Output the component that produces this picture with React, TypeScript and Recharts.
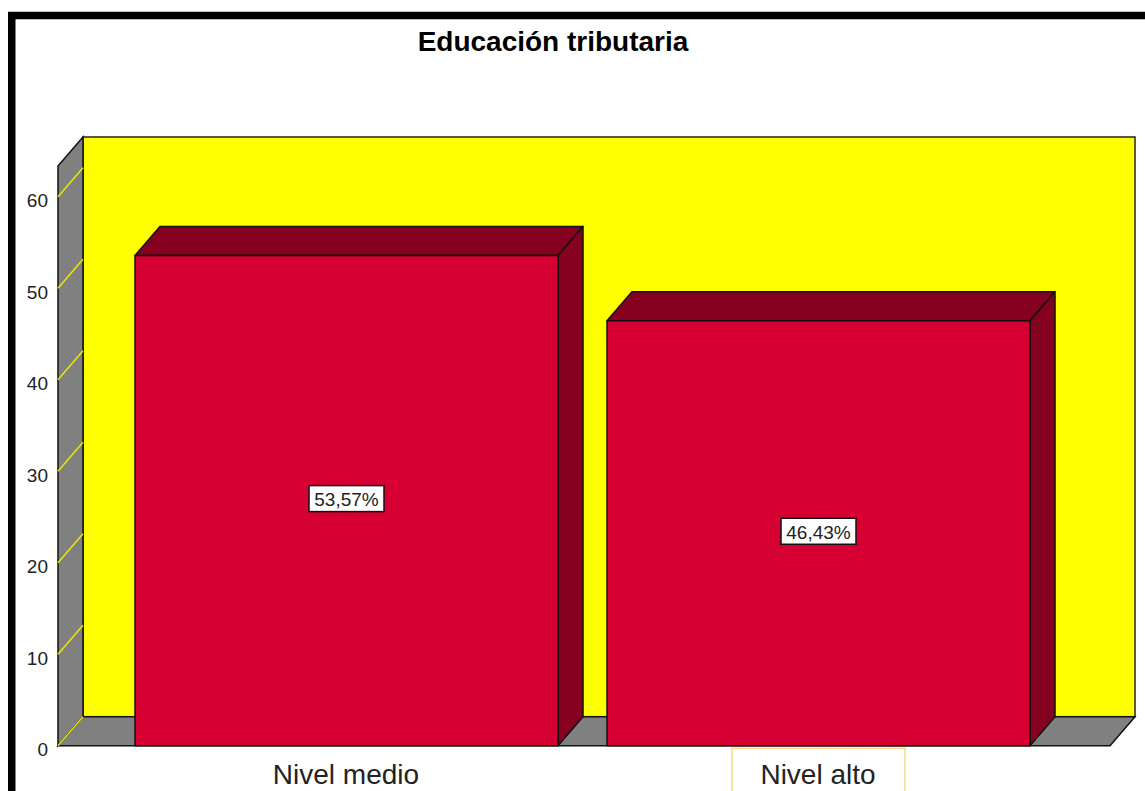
import { BarChart, Bar, XAxis, YAxis, LabelList, usePlotArea } from "recharts";

const categories = ["Nivel medio", "Nivel alto"];
const percentages = [53.57, 46.43];
const yTicks = [0, 10, 20, 30, 40, 50, 60];
const yMax = 63.35;

const data = categories.map((name, i) => ({ name, value: percentages[i] }));

// 3D depth offset of the box
const DX = 25;
const DY = 29;

const RED = "#d60032";
const DARK_RED = "#86001f";
const YELLOW = "#ffff00";
const GRAY = "#808080";
const FONT = "'Liberation Sans', Arial, sans-serif";

function Backdrop() {
  const plot = usePlotArea();
  if (!plot) return null;
  const { x, y, width, height } = plot;
  const b = y + height;
  const r = x + width;
  return (
    <g>
      {/* outer frame */}
      <rect x={11.75} y={15.5} width={1400} height={1000} fill="none" stroke="#000" strokeWidth={7.5} />
      <text x={553} y={41} textAnchor="middle" dominantBaseline="central"
        fontFamily={FONT} fontWeight="bold" fontSize={28} fill="#000">
        Educación tributaria
      </text>
      {/* back wall */}
      <rect x={x + DX} y={y - DY} width={width} height={height} fill={YELLOW} stroke="#222" strokeWidth={1.5} />
      {/* left wall */}
      <polygon points={`${x},${y} ${x + DX},${y - DY} ${x + DX},${b - DY} ${x},${b}`}
        fill={GRAY} stroke="#111" strokeWidth={1.5} />
      {/* floor */}
      <polygon points={`${x},${b} ${x + DX},${b - DY} ${r + DX},${b - DY} ${r},${b}`}
        fill={GRAY} stroke="#111" strokeWidth={1.5} />
    </g>
  );
}

function Prism(props: any) {
  const { x, y, width, height } = props;
  if (width == null || height == null) return null;
  const r = x + width;
  const b = y + height;
  return (
    <g stroke="#111" strokeWidth={1.5} strokeLinejoin="round">
      <polygon points={`${x},${y} ${x + DX},${y - DY} ${r + DX},${y - DY} ${r},${y}`} fill={DARK_RED} />
      <polygon points={`${r},${y} ${r + DX},${y - DY} ${r + DX},${b - DY} ${r},${b}`} fill={DARK_RED} />
      <rect x={x} y={y} width={width} height={height} fill={RED} />
    </g>
  );
}

function ValueTag(props: any) {
  const { x, y, width, height, value } = props;
  const cx = x + width / 2;
  const cy = y + height / 2 - 2;
  const text = Number(value).toFixed(2).replace(".", ",") + "%";
  return (
    <g>
      <rect x={cx - 37.5} y={cy - 13} width={75} height={26} fill="#fff" stroke="#111" strokeWidth={1.5} />
      <text x={cx} y={cy + 1} textAnchor="middle" dominantBaseline="central"
        fontFamily={FONT} fontSize={19} fill="#222">
        {text}
      </text>
    </g>
  );
}

function YTick(props: any) {
  const { x, y, payload } = props;
  return (
    <g>
      <line x1={x} y1={y} x2={x + DX} y2={y - DY} stroke="#e8e800" strokeWidth={1.5} />
      <text x={x - 10} y={y + 4} textAnchor="end" dominantBaseline="central"
        fontFamily={FONT} fontSize={19} fill="#222">
        {payload.value}
      </text>
    </g>
  );
}

function XTick(props: any) {
  const { x, y, payload, index } = props;
  return (
    <g>
      {index === 1 && (
        <rect x={x - 86} y={y + 2.5} width={173} height={60} fill="none" stroke="#fbd88c" strokeWidth={1.5} />
      )}
      <text x={x} y={y + 38} textAnchor="middle" fontFamily={FONT} fontSize={28} fill="#222">
        {payload.value}
      </text>
    </g>
  );
}

export default function App() {
  return (
    <div style={{ width: 1145, height: 791, background: "#fff" }}>
      <style>{"body{margin:0}"}</style>
      <BarChart width={1145} height={791} data={data}
        margin={{ top: 166, right: 35, bottom: 0, left: 0 }}>
        <Backdrop />
        <XAxis dataKey="name" height={45.3} axisLine={false} tickLine={false}
          tickSize={0} tickMargin={0} padding={{ left: 52, right: 56 }} tick={<XTick />} interval={0} />
        <YAxis width={58} domain={[0, yMax]} ticks={yTicks} interval={0} axisLine={false}
          tickLine={false} tickSize={0} tickMargin={0} tick={<YTick />} />
        <Bar dataKey="value" barSize={423} shape={<Prism />} isAnimationActive={false}>
          <LabelList dataKey="value" content={<ValueTag />} />
        </Bar>
      </BarChart>
    </div>
  );
}
